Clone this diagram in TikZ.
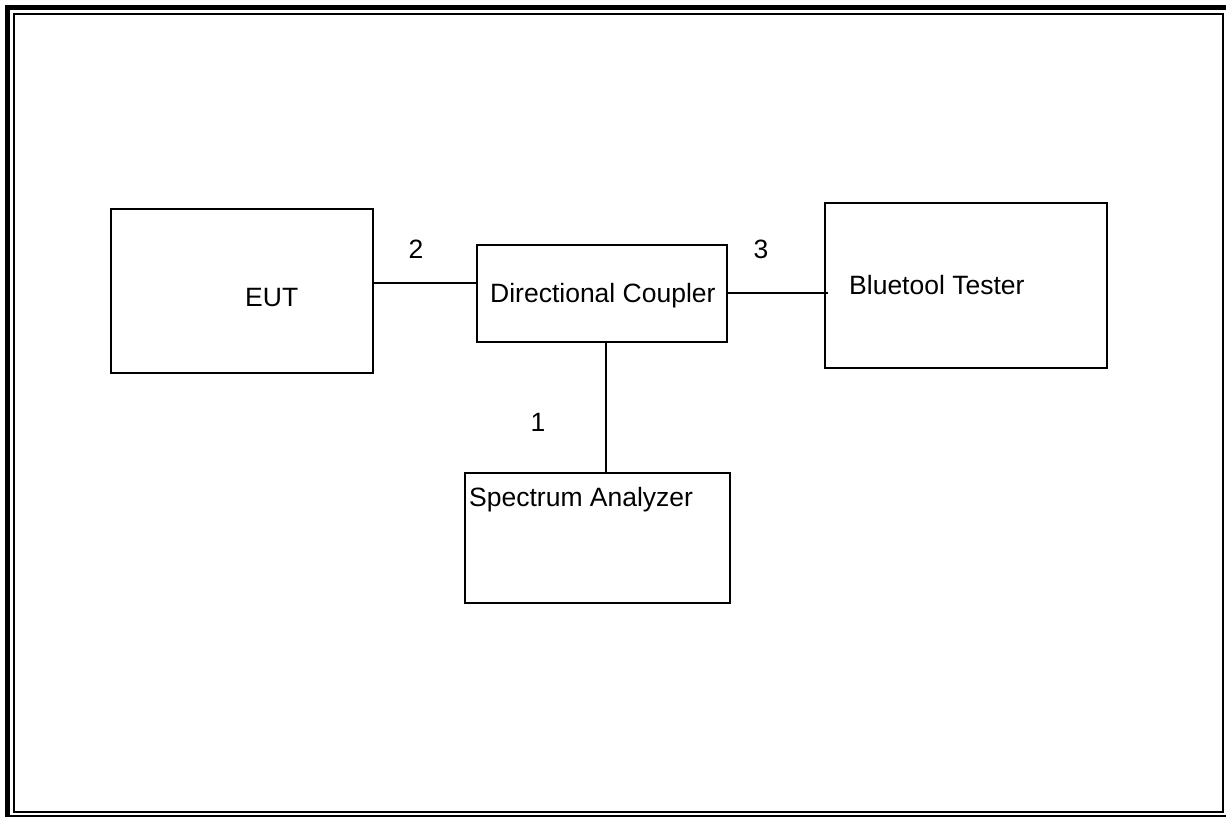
\documentclass[tikz,border=0pt]{standalone}
\usepackage{fontspec}
\setmainfont{Liberation Sans}
\begin{document}
\begin{tikzpicture}[x=1pt,y=-1pt,
  box/.style={draw=black,line width=2pt,inner sep=0pt},
  lbl/.style={inner sep=0pt,font=\fontsize{26.5}{30}\selectfont},
  wire/.style={line width=2pt}]
\useasboundingbox[fill=white] (0,0) rectangle (1226,817);
% frame
\draw[line width=5.5pt] (7.5,817) -- (7.5,7.5) -- (1226,7.5);
\draw[line width=2.5pt] (14,14) rectangle (1223,812);
\draw[line width=2.5pt] (5,816) -- (1226,816);
% boxes
\node[box,minimum width=262pt,minimum height=164pt] (eut) at (242,291) {};
\node[box,minimum width=250pt,minimum height=97pt] (cpl) at (602,293.5) {};
\node[box,minimum width=282pt,minimum height=165pt] (bt) at (966,285.5) {};
\node[box,minimum width=265pt,minimum height=130pt] (sa) at (597.5,538) {};
% texts
\node[lbl,anchor=base west] (teut) at (245,306) {EUT};
\node[lbl,anchor=base west] (tcpl) at (490,302) {Directional Coupler};
\node[lbl,anchor=base west] (tbt) at (849,294) {Bluetool Tester};
\node[lbl,anchor=base west] (tsa) at (469,506) {Spectrum Analyzer};
\node[lbl,anchor=base] (n2) at (416,258) {2};
\node[lbl,anchor=base] (n3) at (761,258) {3};
\node[lbl,anchor=base] (n1) at (538,431) {1};
% connectors
\coordinate (y2) at (0,282.5);
\coordinate (y3) at (0,292.5);
\coordinate (x1) at (606,0);
\coordinate (btend) at (828,292.5);
\draw[wire] (eut.east |- y2) -- (cpl.west |- y2);
\draw[wire] (cpl.east |- y3) -- (btend);
\draw[wire] (cpl.south -| x1) -- (sa.north -| x1);
\end{tikzpicture}
\end{document}
